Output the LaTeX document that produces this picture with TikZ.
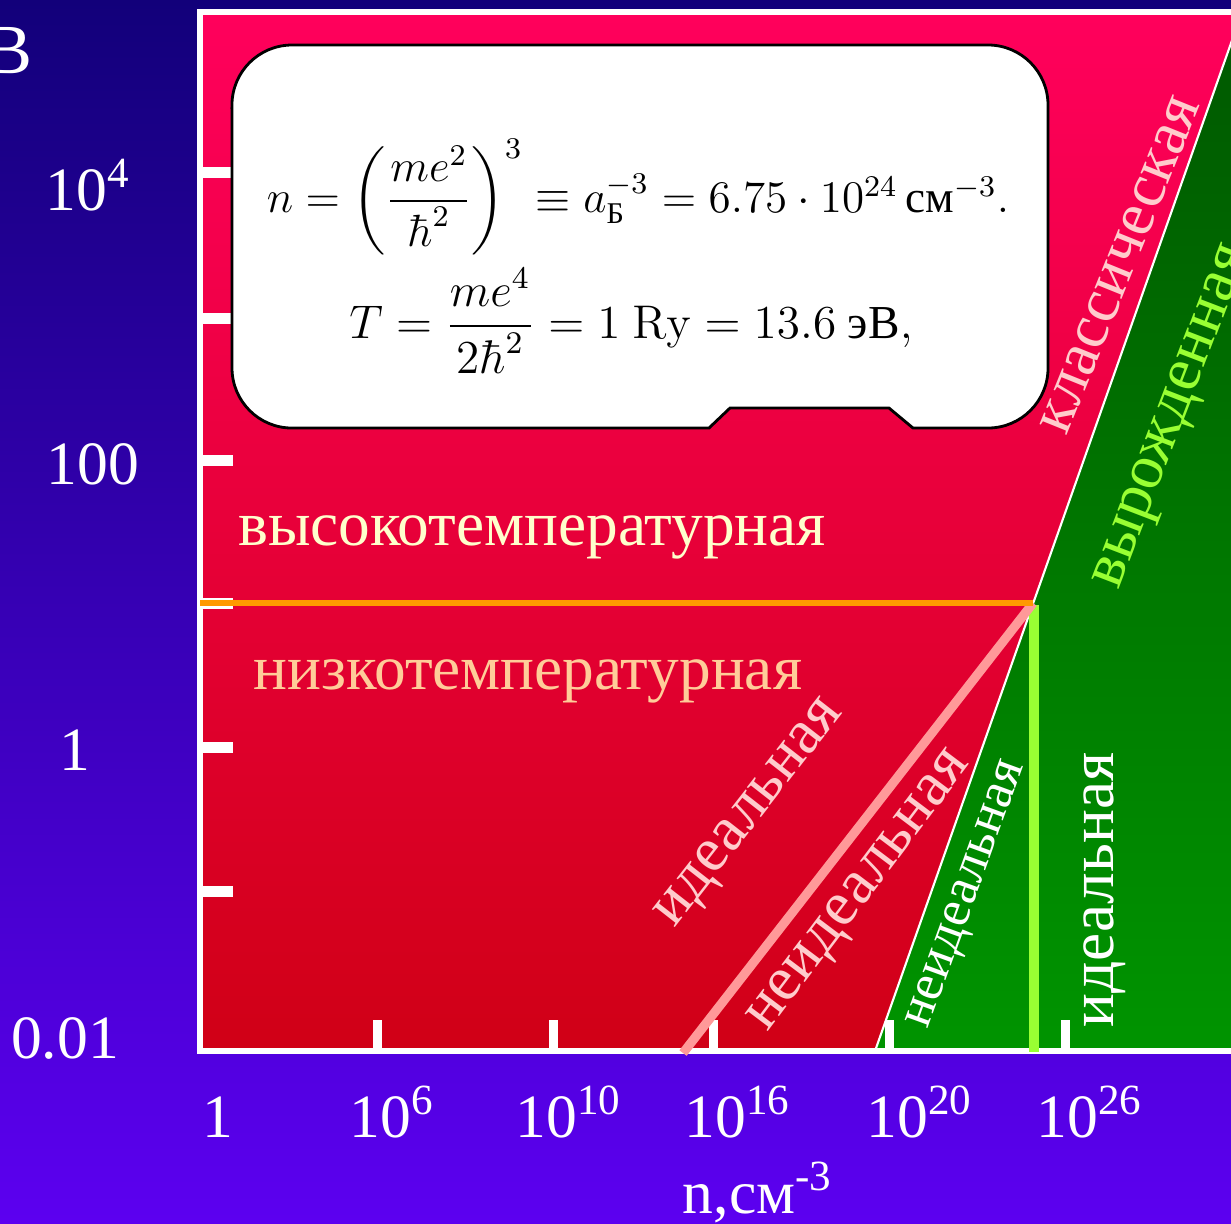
\documentclass[tikz,border=0pt]{standalone}
\usepackage{amsmath}
\usepackage[no-math]{fontspec}
\setmainfont{Liberation Serif}

\definecolor{bgtop}{RGB}{18,0,122}
\definecolor{bgbot}{RGB}{92,0,240}
\definecolor{redtl}{RGB}{255,0,92}
\definecolor{redbr}{RGB}{208,0,22}
\definecolor{greentop}{RGB}{0,88,0}
\definecolor{greenbot}{RGB}{0,148,0}
\definecolor{orangeline}{RGB}{255,153,0}
\definecolor{pinkline}{RGB}{255,153,153}
\definecolor{limeline}{RGB}{153,255,51}
\definecolor{hightext}{RGB}{255,255,204}
\definecolor{lowtext}{RGB}{255,204,153}
\definecolor{pinktext}{RGB}{255,204,204}

\tikzset{
    axislabel/.style={text=white, inner sep=0pt, font=\fontsize{17.5}{20}\selectfont},
    regionlabel/.style={inner sep=0pt, font=\fontsize{18}{21}\selectfont},
    formula/.style={inner sep=0pt, text=black, font=\large},
    tickmark/.style={fill=white}
}

\begin{document}
\begin{tikzpicture}[x=0.01cm, y=-0.01cm]
        % Canvas and background
        \useasboundingbox (0,0) rectangle (1231,1223);
        \clip (0,0) rectangle (1231,1223);
        \shade[top color=bgtop, bottom color=bgbot] (0,0) rectangle (1231,1223);
        % Key points of the diagram
        \coordinate (triple) at (1033,603);
        \coordinate (edgelow) at (875,1051);
        \coordinate (edgehigh) at (1242,12);
        % Plot area, red part
        \shade[shading angle=45, top color=redtl, bottom color=redbr] 
            (200,12) rectangle (1260,1051);
        % Degenerate region
        \shade[top color=greentop, bottom color=greenbot] 
            (edgelow) -- (edgehigh) -- (1260,12) -- (1260,1051) -- cycle;
        \draw[white, line width=0.6pt] (edgelow) -- (edgehigh);
        % Frame and ticks
        \draw[white, line width=1.7pt] (1260,12) -- (200,12) -- (200,1051) -- (1260,1051);
        \foreach \ty in {172,318,460,603,747,891}
            \fill[tickmark] (203,\ty-5.5) rectangle (233,\ty+5.5);
        \foreach \tx in {377,553,713,889,1065}
            \fill[tickmark] (\tx-4.5,1020) rectangle (\tx+4.5,1051);
        % Borders between regions
        \draw[limeline, line width=2.6pt] (1034,605) -- (1034,1052);
        \draw[pinkline, line width=2.6pt] (683,1053) -- (triple);
        \draw[orangeline, line width=1.9pt] (200,603) -- (triple);
        % Box with the formulas
        \draw[fill=white, line width=0.8pt] 
            (232,105) -- (232,368) 
                arc[start angle=180, end angle=270, radius=0.6cm]
            -- (709,428) -- (730,408) -- (889,408) -- (913,428) -- (988,428) 
                arc[start angle=270, end angle=360, radius=0.6cm]
            -- (1048,105) 
                arc[start angle=0, end angle=90, radius=0.6cm]
            -- (292,45) 
                arc[start angle=90, end angle=180, radius=0.6cm]
            -- cycle;
        \node[formula, scale=1.07] (density) at (638,197) 
            {$n=\left(\dfrac{me^2}{\hbar^2}\right)^{3}\equiv a_{\text{Б}}^{-3}=6.75\cdot 10^{24}\,\text{см}^{-3}.$};
        \node[formula, scale=1.12] (temperature) at (631,321) 
            {$T=\dfrac{me^4}{2\hbar^2}=1\ \mathrm{Ry}=13.6\ \text{эВ},$};
        % Axis labels
        \node[axislabel, font=\fontsize{20}{22}\selectfont, anchor=base east] (tunit) at (33,73) {В};
        \node[axislabel, anchor=base] (ylab4) at (88,210) {10\textsuperscript{4}};
        \node[axislabel, anchor=base] (ylab100) at (93,484) {100};
        \node[axislabel, anchor=base] (ylab1) at (75,770) {1};
        \node[axislabel, anchor=base] (ylab001) at (65,1058) {0.01};
        \node[axislabel, anchor=base] (xlab0) at (218,1137) {1};
        \foreach \lx/\le in {392/6, 569/10, 738/16, 920/20, 1090/26}
            \node[axislabel, anchor=base] (xlab\le) at (\lx,1137) {10\textsuperscript{\le}};
        \node[axislabel, anchor=base] (xtitle) at (758,1213) {n,см\textsuperscript{-3}};
        % Region labels
        \node[regionlabel, text=hightext, anchor=base] (hightemp) at (532,545) {высокотемпературная};
        \node[regionlabel, text=lowtext, anchor=base] (lowtemp) at (528,689) {низкотемпературная};
        \node[regionlabel, text=pinktext, rotate=52] (idealcl) at (752,815) {идеальная};
        \node[regionlabel, text=pinktext, rotate=53] (nonidealcl) at (862,893) {неидеальная};
        \node[regionlabel, text=white, font=\fontsize{15}{17}\selectfont, rotate=70] (nonidealdeg) at (969,895) {неидеальная};
        \node[regionlabel, text=white, rotate=90] (idealdeg) at (1105,890) {идеальная};
        \node[regionlabel, text=pinktext, rotate=68] (classical) at (1120,265) {классическая};
        \node[regionlabel, text=limeline, rotate=69] (degenerate) at (1176,418) {вырожденная};
\end{tikzpicture}
\end{document}
